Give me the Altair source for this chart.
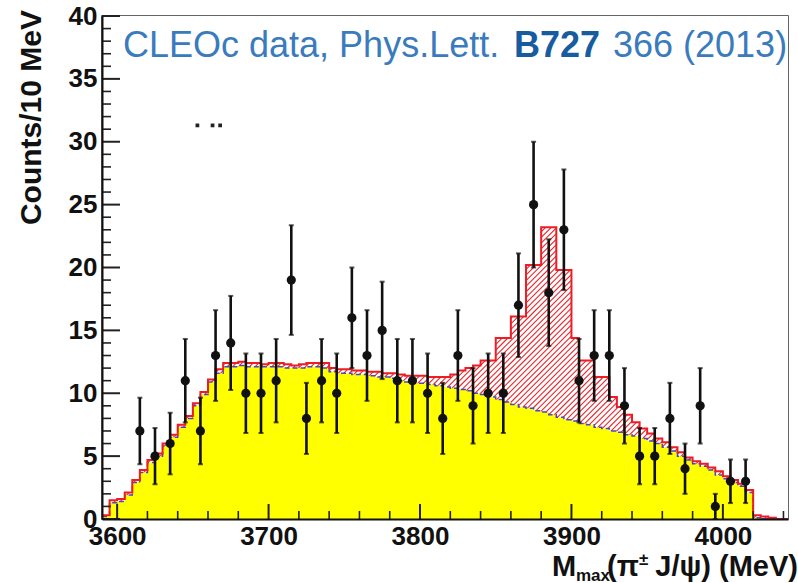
import altair as alt
import pandas as pd

# ---------------------------------------------------------------------------
# CLEO-c data: events per 10 MeV bin (bin centres, MeV)
bin_centre = list(range(3615, 4025, 10))
events = [7, 5, 6, 11, 7, 13, 14, 10, 10, 11,
          19, 8, 11, 10, 16, 13, 15, 11, 11, 10,
          8, 13, 9, 10, 10, 17, 25, 18, 23, 11,
          13, 13, 9, 5, 5, 8, 4, 9, 1, 3,
          3]

# Fit components tabulated in 5 MeV steps (left edge of each step, MeV)
fit_edge = list(range(3590, 4040, 5))
fit_total = [0.3, 1.5, 1.6, 2.1, 3.1, 3.9, 4.7, 5.2, 6.0, 6.7,
             7.5, 8.2, 9.2, 10.1, 11.1, 11.9, 12.4, 12.4, 12.5, 12.4,
             12.4, 12.3, 12.4, 12.4, 12.3, 12.2, 12.3, 12.4, 12.4, 12.4,
             12.0, 11.9, 11.9, 11.8, 11.8, 11.7, 11.7, 11.6, 11.6, 11.5,
             11.4, 11.4, 11.4, 11.3, 11.3, 11.3, 11.5, 11.8, 12.0, 12.2,
             12.6, 12.6, 14.4, 14.4, 16.1, 16.1, 20.2, 20.2, 23.2, 23.2,
             19.8, 19.8, 14.4, 12.6, 12.6, 11.3, 11.3, 9.7, 8.9, 8.3,
             7.7, 7.2, 6.8, 6.4, 6.1, 5.7, 5.3, 4.9, 4.6, 4.4,
             4.1, 3.8, 3.4, 3.1, 2.8, 2.3, 0.3, 0.2, 0.1, 0.0]
fit_background = [0.2, 1.3, 1.4, 1.9, 2.9, 3.7, 4.5, 5.0, 5.8, 6.5,
                  7.3, 8.0, 9.0, 9.9, 10.9, 11.6, 12.1, 12.1, 12.2, 12.1,
                  12.1, 12.1, 12.1, 12.1, 12.0, 12.0, 12.0, 12.1, 12.1, 12.0,
                  11.7, 11.6, 11.6, 11.5, 11.5, 11.4, 11.3, 11.3, 11.2, 11.0,
                  10.9, 10.8, 10.8, 10.7, 10.6, 10.5, 10.4, 10.3, 10.2, 10.0,
                  9.9, 9.7, 9.5, 9.3, 9.1, 8.9, 8.8, 8.6, 8.5, 8.3,
                  8.1, 7.9, 7.8, 7.6, 7.5, 7.3, 7.2, 7.0, 6.9, 6.7,
                  6.6, 6.4, 6.2, 6.0, 5.7, 5.4, 5.0, 4.7, 4.4, 4.2,
                  3.9, 3.5, 3.2, 2.9, 2.6, 2.1, 0.1, 0.0, 0.0, 0.0]

# Axis tick values
x_label_values = [3600, 3700, 3800, 3900, 4000]
x_minor_values = [m for m in range(3600, 4041, 20) if m % 100]
y_label_values = list(range(0, 41, 5))
y_minor_values = [v for v in range(0, 41) if v % 5]

# Small leftover legend markers near the top left
stub_mass = [3653, 3663, 3668]
stub_level = [31.3, 31.3, 31.3]

# ---------------------------------------------------------------------------
data_df = pd.DataFrame({"mass": bin_centre, "events": events})
fit_df = pd.DataFrame({
    "mass": fit_edge + [4045],
    "total": fit_total + [fit_total[-1]],
    "background": fit_background + [fit_background[-1]],
})

W, H = 686, 503
x_scale = alt.Scale(domain=[3590, 4043], nice=False, zero=False)
y_scale = alt.Scale(domain=[0, 40], nice=False, zero=False)
x_axis = alt.Axis(values=x_label_values, format="d", title=None, labelPadding=4,
                  labelFlush=False, ticks=False, grid=False, zindex=2)
y_axis = alt.Axis(values=y_label_values, format="d", title=None, labelPadding=5,
                  labelFlush=False, ticks=False, grid=False, zindex=2)


def X(field):
    return alt.X(f"{field}:Q", scale=x_scale, axis=x_axis)


def Y(field):
    return alt.Y(f"{field}:Q", scale=y_scale, axis=y_axis)


# Hatching for the signal component: 45-degree strokes (screen space)
slope = (W / 453.0) / (H / 40.0)   # data units of y per MeV for a 45 deg line
run = 260
hatch = alt.Chart(alt.sequence(0, 185, as_="k")).transform_calculate(
    x1="3350 + 3.7 * datum.k",
    x2=f"3350 + 3.7 * datum.k + {run}",
    y1="0",
    y2=f"{run * slope}",
).mark_rule(color="#e8262b", strokeWidth=1.1, clip=True).encode(
    x=X("x1"), x2="x2:Q", y=Y("y1"), y2="y2:Q"
)

# White cover above the total fit so the hatch only shows below it
cover = alt.Chart(fit_df).mark_area(
    color="white", interpolate="step-after", clip=True
).encode(x=X("mass"), y=Y("total"), y2=alt.datum(40))

background_fill = alt.Chart(fit_df).mark_area(
    color="#ffff00", interpolate="step-after", clip=True
).encode(x=X("mass"), y=Y("background"))

background_line = alt.Chart(fit_df).mark_line(
    color="#4b45c8", strokeWidth=1.5, strokeDash=[5, 3],
    interpolate="step-after", clip=True
).encode(x=X("mass"), y=Y("background"))

total_line = alt.Chart(fit_df).mark_line(
    color="#ee1c24", strokeWidth=2, interpolate="step-after", clip=True
).encode(x=X("mass"), y=Y("total"))

# Inward-pointing ticks
tick_color = "#222222"
x_major = alt.Chart(pd.DataFrame({"m": x_label_values})).mark_rule(
    color=tick_color, strokeWidth=2).encode(
    x=X("m"), y=alt.value(H), y2=alt.value(H - 15))
x_minor = alt.Chart(pd.DataFrame({"m": x_minor_values})).mark_rule(
    color=tick_color, strokeWidth=1.6).encode(
    x=X("m"), y=alt.value(H), y2=alt.value(H - 8))
y_major = alt.Chart(pd.DataFrame({"v": y_label_values})).mark_rule(
    color=tick_color, strokeWidth=2).encode(
    y=Y("v"), x=alt.value(0), x2=alt.value(18))
y_minor = alt.Chart(pd.DataFrame({"v": y_minor_values})).mark_rule(
    color=tick_color, strokeWidth=1.6).encode(
    y=Y("v"), x=alt.value(0), x2=alt.value(9))

# Data points with Poisson uncertainties
points_base = alt.Chart(data_df).transform_calculate(
    lo="datum.events - sqrt(datum.events)",
    hi="datum.events + sqrt(datum.events)",
)
err_bars = points_base.mark_rule(color="#111111", strokeWidth=2.6).encode(
    x=X("mass"), y=Y("lo"), y2="hi:Q")
caps_hi = points_base.mark_tick(color="#111111", orient="horizontal",
                                size=5, thickness=2).encode(x=X("mass"), y=Y("hi"))
caps_lo = points_base.mark_tick(color="#111111", orient="horizontal",
                                size=5, thickness=2).encode(x=X("mass"), y=Y("lo"))
dots = points_base.mark_circle(color="#111111", size=85, opacity=1).encode(
    x=X("mass"), y=Y("events"))

stubs = alt.Chart(pd.DataFrame({"mass": stub_mass, "level": stub_level})).mark_square(
    color="#222222", size=14, opacity=1).encode(x=X("mass"), y=Y("level"))


# Text annotations
def label(text, x, y, size, weight="normal", color="#111111", align="left",
          angle=0, baseline="alphabetic"):
    props = dict(font="Liberation Sans", fontSize=size, fontWeight=weight,
                 color=color, align=align, baseline=baseline)
    if angle:
        props["angle"] = angle
    return alt.Chart(pd.DataFrame({"t": [text]})).mark_text(**props).encode(
        text="t:N", x=alt.value(x), y=alt.value(y))


ref_blue = "#3a7bbd"
texts = [
    label("CLEOc data, Phys.Lett.", 21, 41, 36, color=ref_blue),
    label("B727", 412, 41, 36, weight="bold", color="#175c9f"),
    label("366 (2013)", 511, 41, 36, color=ref_blue),
    label("Counts/10 MeV", -70, -6, 30, weight="bold", align="right",
          angle=270, baseline="middle"),
    label("M", 450, 560, 29, weight="bold"),
    label("max", 474, 565, 17, weight="bold"),
    label("(\u03c0", 505, 560, 29, weight="bold"),
    label("\u00b1", 537, 549, 17, weight="bold"),
    label("J/\u03c8) (MeV)", 696, 560, 29, weight="bold", align="right"),
]

chart = alt.layer(
    hatch, cover, background_fill, background_line, total_line,
    x_minor, x_major, y_minor, y_major,
    err_bars, caps_hi, caps_lo, dots, stubs,
    *texts,
).properties(
    width=W, height=H,
    padding={"left": 102, "top": 16, "right": 10, "bottom": 64},
    autosize=alt.AutoSizeParams(type="none"),
).configure_view(
    stroke="#333333", strokeWidth=1.5
).configure_axis(
    labelFont="Liberation Sans", labelFontWeight="bold", labelFontSize=26,
    labelColor="#111111", domainColor="#111111", domainWidth=2,
)

chart.save("out.html", embed_options={"renderer": "svg", "actions": False})
